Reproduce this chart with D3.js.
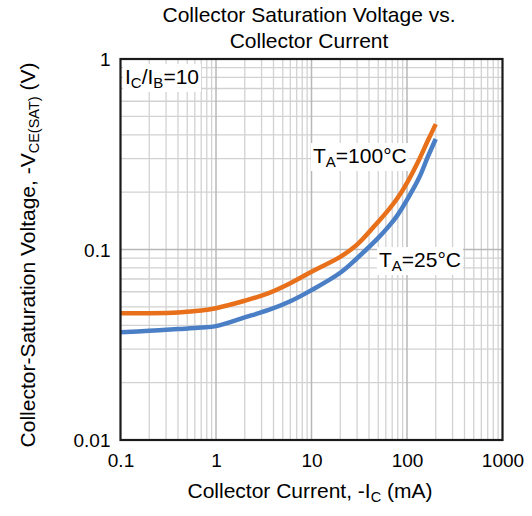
<!DOCTYPE html>
<html>
<head>
<meta charset="utf-8">
<script src="https://cdn.jsdelivr.net/npm/d3@7"></script>
<style>
  html, body { margin: 0; padding: 0; background: #fff; }
  svg { display: block; font-family: "Liberation Sans", Arial, Helvetica, sans-serif; }
</style>
</head>
<body>
<svg id="chart" width="532" height="516"></svg>
<script>
// ---- Data ----
const currentMA = [0.1, 0.2, 0.4, 0.7, 1, 2, 3.5, 6, 10, 20, 30, 50, 65, 80, 100, 135, 165, 200];
const vce100C   = [0.0463, 0.0463, 0.0467, 0.0478, 0.0492, 0.0538, 0.0588, 0.0665, 0.0765, 0.0915, 0.106, 0.140, 0.163, 0.187, 0.224, 0.299, 0.372, 0.455];
const vce25C    = [0.0368, 0.0374, 0.0382, 0.0389, 0.0396, 0.0440, 0.0480, 0.0535, 0.0612, 0.0755, 0.0900, 0.115, 0.133, 0.152, 0.182, 0.240, 0.306, 0.38];
const xTicks = [0.1, 1, 10, 100, 1000];
const xTickLabels = ["0.1", "1", "10", "100", "1000"];
const yTicks = [0.01, 0.1, 1];
const yTickLabels = ["0.01", "0.1", "1"];
const seriesNames = ["T_A=100°C", "T_A=25°C"];

(function () {
const svg = d3.select("#chart");
const pL = 120.5, pR = 502.5, pT = 59, pB = 440;
const x = d3.scaleLog().domain([0.1, 1000]).range([pL, pR]);
const y = d3.scaleLog().domain([0.01, 1]).range([pB, pT]);

function minorVals(lo, hi) {
  const out = [];
  for (let d = lo; d < hi * 0.999; d *= 10) {
    for (let k = 2; k <= 9; k++) out.push(d * k);
  }
  return out;
}
const xMinor = minorVals(0.1, 1000);
const yMinor = minorVals(0.01, 1);

const grid = svg.append("g");
grid.selectAll("line.xm").data(xMinor).enter().append("line")
  .attr("x1", d => x(d)).attr("x2", d => x(d)).attr("y1", pT).attr("y2", pB)
  .attr("stroke", "#d2d2d2").attr("stroke-width", 1.3);
grid.selectAll("line.ym").data(yMinor).enter().append("line")
  .attr("y1", d => y(d)).attr("y2", d => y(d)).attr("x1", pL).attr("x2", pR)
  .attr("stroke", "#d2d2d2").attr("stroke-width", 1.3);
grid.selectAll("line.xM").data(xTicks.slice(1, -1)).enter().append("line")
  .attr("x1", d => x(d)).attr("x2", d => x(d)).attr("y1", pT).attr("y2", pB)
  .attr("stroke", "#b8b8b8").attr("stroke-width", 1.5);
grid.selectAll("line.yM").data(yTicks.slice(1, -1)).enter().append("line")
  .attr("y1", d => y(d)).attr("y2", d => y(d)).attr("x1", pL).attr("x2", pR)
  .attr("stroke", "#b8b8b8").attr("stroke-width", 1.5);

// ---- Curves ----
const line = d3.line().curve(d3.curveCatmullRom.alpha(0.5));
const ptsA = currentMA.map((c, i) => [x(c), y(vce100C[i])]);
const ptsB = currentMA.map((c, i) => [x(c), y(vce25C[i])]);
svg.append("path").attr("d", line(ptsB)).attr("fill", "none")
  .attr("stroke", "#4a7fc6").attr("stroke-width", 4.5);
svg.append("path").attr("d", line(ptsA)).attr("fill", "none")
  .attr("stroke", "#e8701a").attr("stroke-width", 4.5);

// ---- Frame ----
svg.append("rect").attr("x", pL).attr("y", pT).attr("width", pR - pL).attr("height", pB - pT)
  .attr("fill", "none").attr("stroke", "#1a1a1a").attr("stroke-width", 2.2);

// ---- Axes labels ----
const xAxis = d3.axisBottom(x).tickValues(xTicks).tickSize(0).tickPadding(0)
  .tickFormat((d, i) => xTickLabels[i]);
const gx = svg.append("g").attr("transform", `translate(0,${pB})`).call(xAxis);
gx.select(".domain").remove();
gx.attr("font-family", null).attr("font-size", null);
gx.selectAll("text").attr("font-size", 19).attr("fill", "#000").attr("dy", null).attr("y", 27);

const yAxis = d3.axisLeft(y).tickValues(yTicks).tickSize(0).tickPadding(0)
  .tickFormat((d, i) => yTickLabels[i]);
const gy = svg.append("g").attr("transform", `translate(${pL - 10},0)`).call(yAxis);
gy.select(".domain").remove();
gy.attr("font-family", null).attr("font-size", null);
gy.selectAll("text").attr("font-size", 19).attr("fill", "#000").attr("x", 0).attr("dy", "0.36em");

// ---- Titles ----
const title = svg.append("text").attr("text-anchor", "middle").attr("font-size", 21).attr("fill", "#000");
title.append("tspan").attr("x", 309).attr("y", 22).text("Collector Saturation Voltage vs.");
title.append("tspan").attr("x", 309).attr("y", 48).text("Collector Current");

const xt = svg.append("text").attr("x", 310).attr("y", 498).attr("text-anchor", "middle")
  .attr("font-size", 21).attr("fill", "#000");
xt.append("tspan").text("Collector Current, -I");
xt.append("tspan").attr("font-size", 14.5).attr("dy", 4).text("C");
xt.append("tspan").attr("dy", -4).text(" (mA)");

const yt = svg.append("text").attr("transform", "translate(35,255) rotate(-90)")
  .attr("text-anchor", "middle").attr("font-size", 21).attr("fill", "#000");
yt.append("tspan").text("Collector-Saturation Voltage, -V");
yt.append("tspan").attr("font-size", 14.5).attr("dy", 4).text("CE(SAT)");
yt.append("tspan").attr("dy", -4).text(" (V)");

// ---- Annotations ----
function label(xp, yp, parts) {
  const g = svg.append("g");
  const bg = g.append("rect").attr("fill", "#fff");
  const t = g.append("text").attr("x", xp).attr("y", yp).attr("font-size", 21).attr("fill", "#000");
  parts.forEach(p => {
    const ts = t.append("tspan").text(p.t);
    if (p.sub) ts.attr("font-size", 15).attr("dy", 4);
    if (p.back) ts.attr("dy", -4);
  });
  const bb = t.node().getBBox();
  bg.attr("x", bb.x - 2).attr("y", bb.y - 1).attr("width", bb.width + 4).attr("height", bb.height + 2);
}
label(125, 84, [{t: "I"}, {t: "C", sub: true}, {t: "/I", back: true}, {t: "B", sub: true}, {t: "=10", back: true}]);
const nA = seriesNames[0].split("_"), nB = seriesNames[1].split("_");
label(313, 163, [{t: nA[0]}, {t: nA[1].slice(0, 1), sub: true}, {t: nA[1].slice(1), back: true}]);
label(379, 267, [{t: nB[0]}, {t: nB[1].slice(0, 1), sub: true}, {t: nB[1].slice(1), back: true}]);
})();
</script>
</body>
</html>
